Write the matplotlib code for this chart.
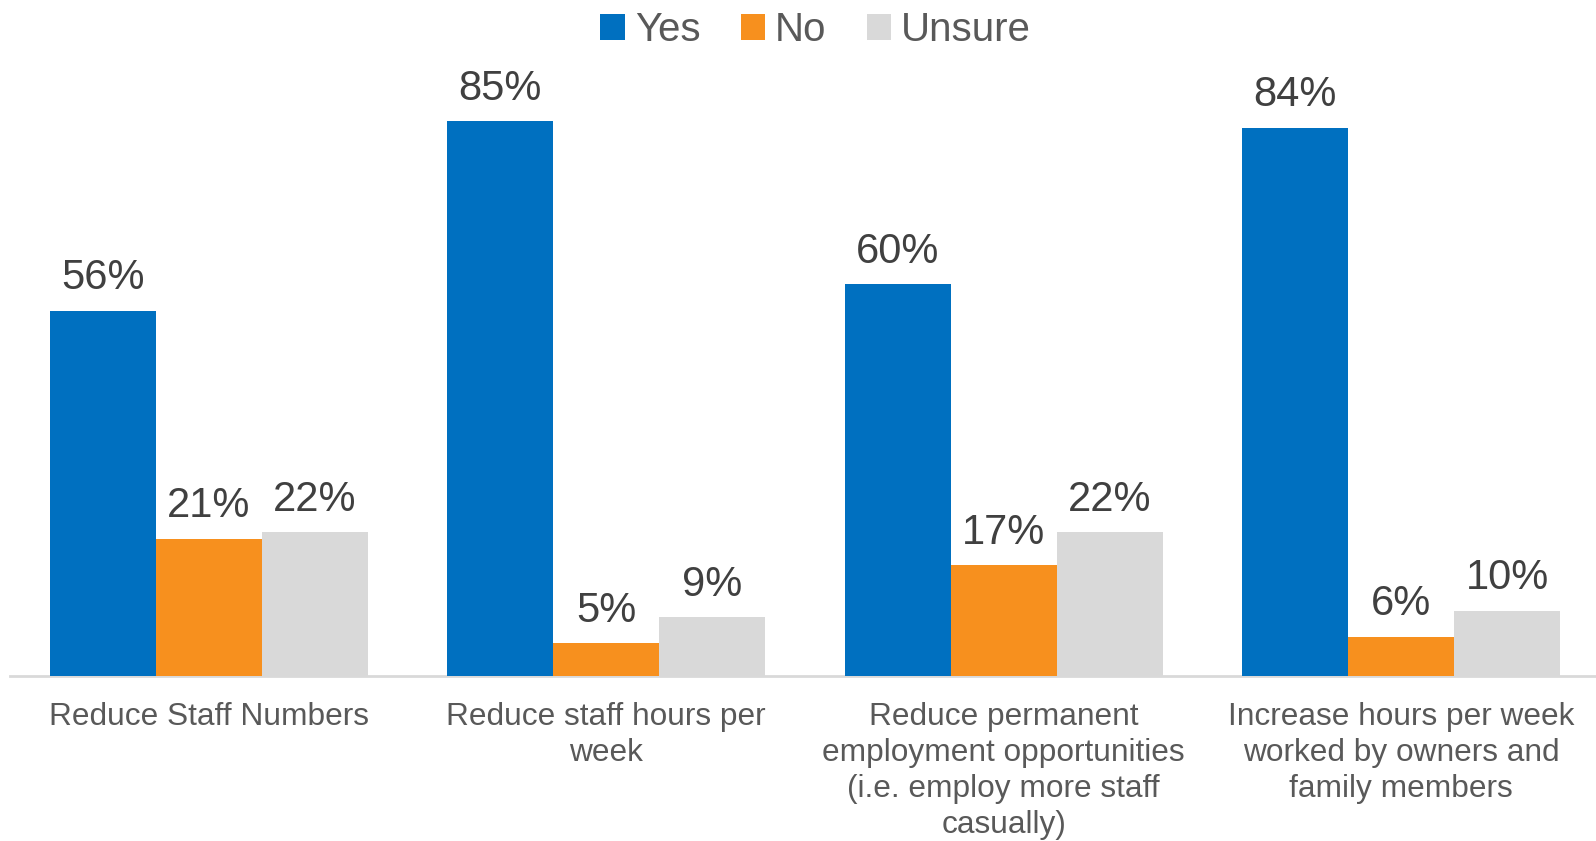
import matplotlib
matplotlib.use('Agg')
import matplotlib.pyplot as plt
import numpy as np

plt.rcParams['font.family'] = ['Liberation Sans', 'DejaVu Sans']

categories = [
    "Reduce Staff Numbers",
    "Reduce staff hours per\nweek",
    "Reduce permanent\nemployment opportunities\n(i.e. employ more staff\ncasually)",
    "Increase hours per week\nworked by owners and\nfamily members",
]
series_names = ["Yes", "No", "Unsure"]
yes_vals = [56, 85, 60, 84]
no_vals = [21, 5, 17, 6]
unsure_vals = [22, 9, 22, 10]
colors = ["#0070C0", "#F7901E", "#D9D9D9"]

fig = plt.figure(figsize=(15.96, 8.41), dpi=100)
ax = fig.add_axes([10 / 1596, 1 - 676 / 841, 1 - 10 / 1596, 676 / 841])

x = np.arange(len(categories))
width = 0.267
handles = []
for i, (name, vals, col) in enumerate(zip(series_names, [yes_vals, no_vals, unsure_vals], colors)):
    bars = ax.bar(x + (i - 1) * width, vals, width, color=col, label=name, zorder=2)
    handles.append(bars)
    for rect, v in zip(bars, vals):
        ax.annotate(f"{v}%", (rect.get_x() + rect.get_width() / 2, rect.get_height()),
                    xytext=(0, 9), textcoords='offset points',
                    ha='center', va='bottom', fontsize=30, color='#404040')

ax.set_xlim(-0.5, 3.49)
ax.set_ylim(0, 103.6)
ax.set_yticks([])
ax.set_xticks(x)
ax.set_xticklabels(categories, fontsize=22.8, color='#595959', linespacing=1.25)
ax.tick_params(axis='x', length=0, pad=19)
for side in ['top', 'right', 'left']:
    ax.spines[side].set_visible(False)
ax.spines['bottom'].set_color('#D9D9D9')
ax.spines['bottom'].set_linewidth(2)
ax.spines['bottom'].set_zorder(1)

fig.legend(handles=handles, labels=series_names, loc='center', bbox_to_anchor=(0.511, 1 - 30 / 841),
           ncol=3, frameon=False, fontsize=29, labelcolor='#595959',
           handlelength=0.6, handleheight=0.6, handletextpad=0.25, columnspacing=1.0)

fig.savefig('out.png', dpi=100)
